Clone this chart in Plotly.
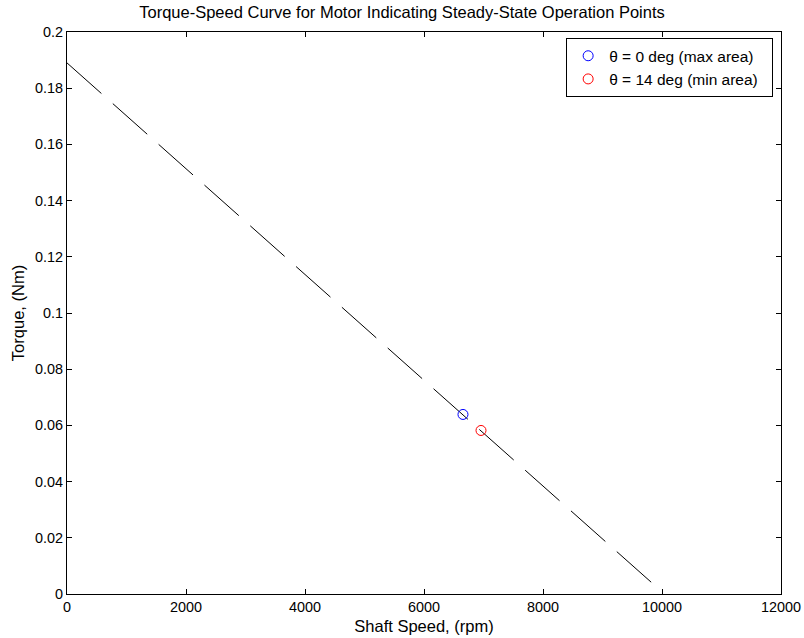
import plotly.graph_objects as go

# Torque-speed line (rpm, Nm)
speed_line = [0, 9850]
torque_line = [0.189, 0.0036]

# Steady-state operating points
op_names = ["\u03b8 = 0 deg (max area)", "\u03b8 = 14 deg (min area)"]
op_speed = [6655, 6958]
op_torque = [0.0639, 0.0582]
op_colors = ["blue", "red"]

x_ticks = [0, 2000, 4000, 6000, 8000, 10000, 12000]
y_ticks = [0, 0.02, 0.04, 0.06, 0.08, 0.1, 0.12, 0.14, 0.16, 0.18, 0.2]

fig = go.Figure()
fig.add_trace(go.Scatter(x=speed_line, y=torque_line, mode="lines",
                         line=dict(color="black", width=1, dash="46px,15.3px"),
                         showlegend=False, hoverinfo="skip"))
for n, sx, ty, c in zip(op_names, op_speed, op_torque, op_colors):
    fig.add_trace(go.Scatter(x=[sx], y=[ty], mode="markers",
                             name=n + "\u00a0\u00a0",
                             marker=dict(symbol="circle-open", size=10, color=c,
                                         line=dict(width=1, color=c))))

fam = "Liberation Sans, Arial, sans-serif"
tickfont = dict(family=fam, size=14.4, color="black")
axis_common = dict(showgrid=False, zeroline=False, showline=True, linecolor="black",
                   linewidth=1, mirror="allticks", ticks="inside", ticklen=5,
                   tickcolor="black", tickfont=tickfont, automargin=False)
fig.update_layout(
    width=804, height=638,
    margin=dict(l=67, r=23, t=32, b=44),
    paper_bgcolor="white", plot_bgcolor="white",
    font=dict(family=fam, size=14, color="black"),
    title=dict(text="Torque-Speed Curve for Motor Indicating Steady-State Operation Points",
               x=0.5, xref="container", y=1 - 12.5 / 638, yref="container",
               xanchor="center", yanchor="middle", font=dict(size=16.5)),
    xaxis=dict(range=[0, 12000], tickvals=x_ticks,
               ticktext=[str(v) for v in x_ticks],
               title=dict(text="Shaft Speed, (rpm)", standoff=6, font=dict(size=16.5)),
               **axis_common),
    yaxis=dict(range=[0, 0.2], tickvals=y_ticks,
               ticktext=[("%g" % v) for v in y_ticks],
               title=dict(text="Torque, (Nm)", standoff=6, font=dict(size=16.5)),
               **axis_common),
    legend=dict(x=0.989, y=0.989, xanchor="right", yanchor="top",
                bgcolor="white", bordercolor="black", borderwidth=1,
                font=dict(size=15.5), itemwidth=32, tracegroupgap=0),
)

fig.write_html("out.html")
